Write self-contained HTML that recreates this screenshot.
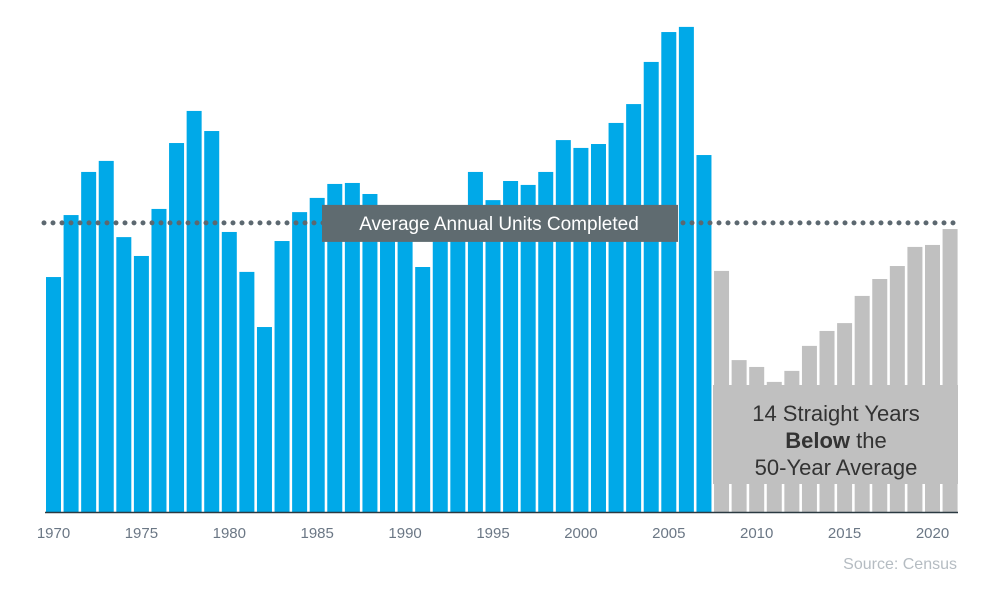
<!DOCTYPE html>
<html><head><meta charset="utf-8"><style>
body{margin:0;background:#fff;width:983px;height:591px;overflow:hidden;font-family:"Liberation Sans",Arial,sans-serif}
</style></head><body>
<svg id="chart" width="983" height="591" xmlns="http://www.w3.org/2000/svg"></svg>
<script>
const years=[1970,1971,1972,1973,1974,1975,1976,1977,1978,1979,1980,1981,1982,1983,1984,1985,1986,1987,1988,1989,1990,1991,1992,1993,1994,1995,1996,1997,1998,1999,2000,2001,2002,2003,2004,2005,2006,2007,2008,2009,2010,2011,2012,2013,2014,2015,2016,2017,2018,2019,2020,2021];
const units=[959,1212,1388,1433,1122,1045,1237,1506,1637,1555,1143,980,755,1106,1224,1282,1339,1343,1298,1212,1143,1000,1110,1171,1388,1273,1351,1335,1388,1518,1486,1502,1588,1665,1837,1959,1980,1457,984,620,592,531,576,678,739,771,882,951,1004,1082,1090,1155];
const tickYears=[1970,1975,1980,1985,1990,1995,2000,2005,2010,2015,2020];
const average=1180;
const belowStart=2008;

const svg=document.getElementById('chart');
const NS='http://www.w3.org/2000/svg';
const x=yr=>53.5+(yr-1970)*17.58;
const y=v=>512-v*0.245;
function mk(tag,attrs,parent){const e=document.createElementNS(NS,tag);for(const k in attrs)e.setAttribute(k,attrs[k]);(parent||svg).appendChild(e);return e;}

years.forEach((yr,i)=>{
  const r=mk('rect',{x:x(yr)-7.5,y:y(units[i]),width:15,height:512-y(units[i]),fill:yr>=belowStart?'#c0c0c0':'#00a9e8'});
  
  
});
const ax=mk('line',{x1:45,x2:958,y1:512.5,y2:512.5,stroke:'#2b3a42','stroke-width':1.5});


tickYears.forEach(t=>{
  const tx=mk('text',{x:x(t),y:538,'text-anchor':'middle','font-size':15,fill:'#6b7785'});
  tx.textContent=t;
  
  
});
const avg=mk('line',{x1:44,x2:958,y1:y(average),y2:y(average),stroke:'#5c6870','stroke-width':5,'stroke-linecap':'round','stroke-dasharray':'0 9'});


const lb=mk('rect',{x:322,y:y(average)-18,width:356,height:37,fill:'#5f6b70'});


const lt=mk('text',{x:499,y:y(average)+7,'text-anchor':'middle','font-size':19,fill:'#fff'});
lt.textContent='Average Annual Units Completed';


const gb=mk('rect',{x:713,y:385,width:245,height:99,fill:'#c0c0c0'});


const ann=mk('text',{x:836,y:421,'text-anchor':'middle','font-size':22,fill:'#333'});


ann.innerHTML='<tspan x="836" y="421">14 Straight Years</tspan><tspan x="836" y="448"><tspan font-weight="bold">Below</tspan> the</tspan><tspan x="836" y="475">50-Year Average</tspan>';
const src=mk('text',{x:957,y:569,'text-anchor':'end','font-size':16,fill:'#b5bcc2'});
src.textContent='Source: Census';


</script>
</body></html>
